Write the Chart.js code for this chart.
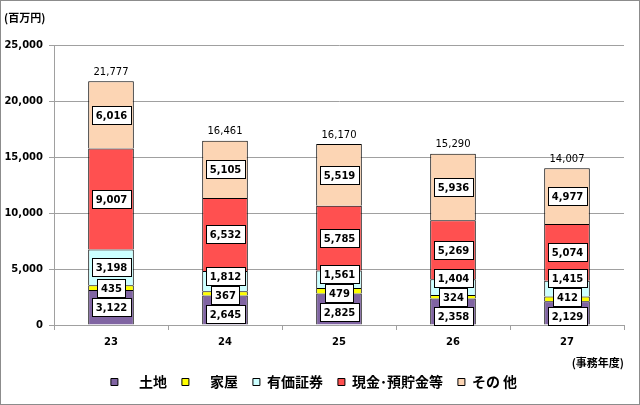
<!DOCTYPE html>
<html>
<head>
<meta charset="utf-8">
<script src="https://cdn.jsdelivr.net/npm/chart.js@4/dist/chart.umd.min.js"></script>
<style>
  html, body { margin: 0; padding: 0; background: #fff; }
  #wrap { width: 640px; height: 405px; position: relative; }
</style>
</head>
<body>
<div id="wrap"><canvas id="c" width="640" height="405"></canvas></div>
<script>
const categories = ['23', '24', '25', '26', '27'];
const seriesNames = ['　土地', '　家屋', '有価証券', '現金･預貯金等', 'その 他'];
const land = [3122, 2645, 2825, 2358, 2129];
const houses = [435, 367, 479, 324, 412];
const securities = [3198, 1812, 1561, 1404, 1415];
const cash = [9007, 6532, 5785, 5269, 5074];
const other = [6016, 5105, 5519, 5936, 4977];
const totals = [21777, 16461, 16170, 15290, 14007];
const yTicks = [0, 5000, 10000, 15000, 20000, 25000];
const yUnit = '(百万円)';
const xUnit = '(事務年度)';

const colors = ['#8064A2', '#FFFF00', '#CCFFFF', '#FF5050', '#FCD5B4'];
const seriesValues = [land, houses, securities, cash, other];

const NUM_FONT = '"DejaVu Sans", sans-serif';
const JP_FONT = '"Noto Sans CJK JP", sans-serif';
const fmt = v => v.toLocaleString('en-US');

const frame = {
  id: 'frame',
  beforeDraw(chart) {
    const ctx = chart.ctx;
    ctx.save();
    ctx.fillStyle = '#fff';
    ctx.fillRect(0, 0, chart.width, chart.height);
    ctx.restore();
  },
  afterDraw(chart) {
    const ctx = chart.ctx;
    ctx.save();
    ctx.strokeStyle = '#8C8C8C';
    ctx.lineWidth = 1;
    ctx.strokeRect(0.5, 0.5, chart.width - 1, chart.height - 1);
    ctx.restore();
  }
};

// Boxed value labels, spread apart inside each column so they do not overlap
const boxLabels = {
  id: 'boxLabels',
  afterDatasetsDraw(chart) {
    const ctx = chart.ctx;
    const h = 18, minDist = 19;
    const nDs = chart.data.datasets.length;
    const nCat = chart.data.labels.length;
    ctx.save();
    ctx.textAlign = 'center';
    ctx.textBaseline = 'middle';
    ctx.font = 'bold 10px ' + NUM_FONT;
    for (let j = 0; j < nCat; j++) {
      const items = [];
      for (let i = 0; i < nDs; i++) {
        const el = chart.getDatasetMeta(i).data[j];
        items.push({ el, txt: fmt(chart.data.datasets[i].data[j]), c: (el.y + el.base) / 2 });
      }
      const floor = chart.chartArea.bottom - h / 2;
      for (let it = 0; it < 100; it++) {
        for (let k = 0; k < items.length - 1; k++) {
          const d = items[k].c - items[k + 1].c;
          if (d < minDist) {
            const s = (minDist - d) / 2;
            items[k].c += s;
            items[k + 1].c -= s;
          }
        }
        if (items[0].c > floor) items[0].c = floor;
      }
      items.forEach(({ el, txt, c }) => {
        const w = Math.round(ctx.measureText(txt).width) + 7;
        const x0 = Math.round(el.x - w / 2) + 0.5;
        const y0 = Math.round(c - h / 2) + 0.5;
        ctx.fillStyle = '#fff';
        ctx.fillRect(x0, y0, w, h);
        ctx.strokeStyle = '#000';
        ctx.lineWidth = 1;
        ctx.strokeRect(x0, y0, w, h);
        ctx.fillStyle = '#000';
        ctx.fillText(txt, el.x + 0.5, Math.round(c) + 1);
      });
    }
    ctx.font = '10px ' + NUM_FONT;
    ctx.fillStyle = '#000';
    const last = chart.getDatasetMeta(nDs - 1);
    last.data.forEach((el, j) => {
      ctx.fillText(fmt(totals[j]), el.x, el.y - 9);
    });
    ctx.restore();
  }
};

new Chart(document.getElementById('c'), {
  type: 'bar',
  data: {
    labels: categories,
    datasets: seriesNames.map((n, i) => ({
      label: n,
      data: seriesValues[i],
      backgroundColor: colors[i],
      borderColor: '#000',
      borderWidth: 1,
      barPercentage: 0.4,
      categoryPercentage: 1.0
    }))
  },
  options: {
    responsive: false,
    animation: false,
    events: [],
    layout: { padding: { top: 11.4, left: 4, right: 16, bottom: 6 } },
    plugins: {
      tooltip: { enabled: false },
      title: {
        display: true,
        text: yUnit,
        align: 'start',
        color: '#000',
        font: { family: JP_FONT, size: 11, weight: 'bold', lineHeight: 1.2 },
        padding: { top: 0, bottom: 20.6 }
      },
      legend: {
        position: 'bottom',
        labels: {
          color: '#000',
          boxWidth: 7,
          boxHeight: 7,
          padding: 15,
          font: { family: JP_FONT, size: 14, weight: 'bold' }
        }
      }
    },
    scales: {
      x: {
        stacked: true,
        afterFit(scale) { scale.height = 35; },
        grid: { display: true, drawOnChartArea: false, drawTicks: true, tickLength: 5, color: '#A0A0A0', offset: true },
        border: { display: true, color: '#A0A0A0' },
        ticks: { color: '#000', padding: 6, font: { family: NUM_FONT, size: 10, weight: 'bold', lineHeight: 1.2 } },
        title: {
          display: true,
          text: xUnit,
          align: 'end',
          color: '#000',
          font: { family: JP_FONT, size: 11, weight: 'bold', lineHeight: 1.2 },
          padding: { top: 0, bottom: -9.6 }
        }
      },
      y: {
        stacked: true,
        min: yTicks[0],
        max: yTicks[yTicks.length - 1],
        afterBuildTicks(scale) { scale.ticks = yTicks.map(v => ({ value: v })); },
        afterFit(scale) { scale.width = 50; },
        grid: { color: '#A0A0A0', tickLength: 5, drawTicks: true },
        border: { display: true, color: '#A0A0A0' },
        ticks: {
          color: '#000',
          padding: 6,
          font: { family: NUM_FONT, size: 10, weight: 'bold' },
          callback: v => fmt(v)
        }
      }
    }
  },
  plugins: [frame, boxLabels]
});
</script>
</body>
</html>
